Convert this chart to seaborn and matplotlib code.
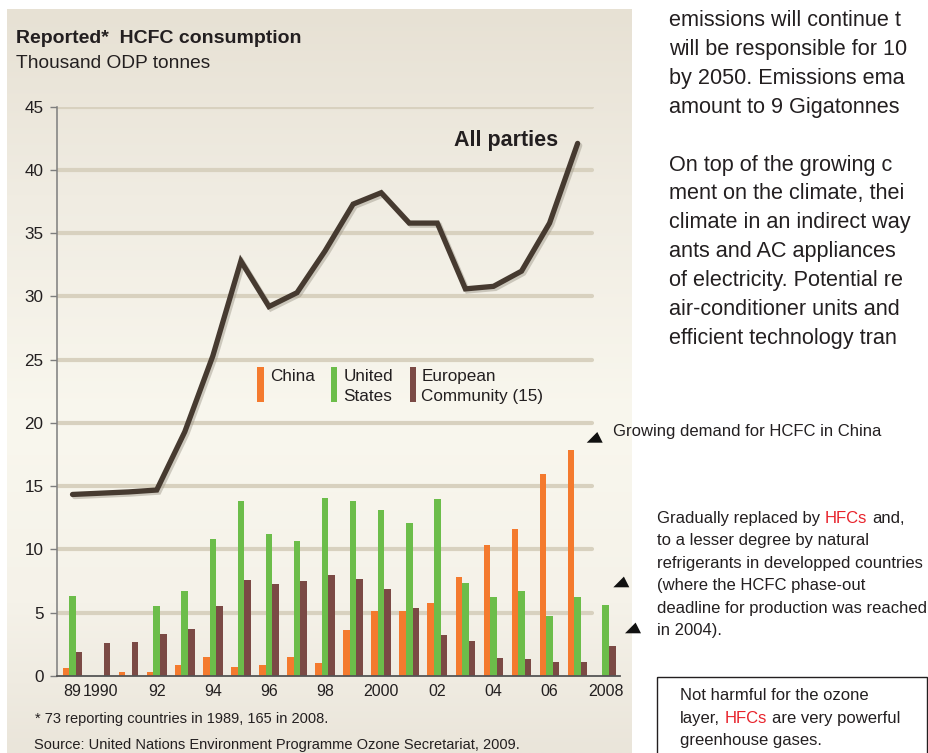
import numpy as np
import pandas as pd
import matplotlib
matplotlib.use("Agg")
import matplotlib.pyplot as plt
import seaborn as sns
from matplotlib import font_manager, patheffects
from matplotlib.patches import Polygon, Rectangle

# values, thousand ODP tonnes
years = list(range(1989, 2009))
china = [0.66, 0, 0.32, 0.32, 0.87, 1.5, 0.71, 0.87, 1.5, 1.03,
         3.6, 5.13, 5.13, 5.76, 7.8, 10.34, 11.6, 16.0, 17.84, 0]
usa = [6.3, 0, 0, 5.5, 6.7, 10.8, 13.8, 11.2, 10.7, 14.1,
       13.8, 13.1, 12.1, 13.97, 7.34, 6.24, 6.7, 4.74, 6.24, 5.6]
eu = [1.9, 2.6, 2.7, 3.3, 3.7, 5.5, 7.6, 7.3, 7.5, 8.0,
      7.66, 6.87, 5.37, 3.24, 2.76, 1.42, 1.34, 1.1, 1.1, 2.37]
line_years = list(range(1989, 2008))
all_parties = [14.35, 14.45, 14.55, 14.7, 19.3, 25.3, 32.8, 29.2, 30.3, 33.6,
               37.3, 38.2, 35.8, 35.8, 30.6, 30.8, 32.0, 35.8, 42.1]

regions = ["China", "United States", "European Community (15)"]
colors = ["#f47a2e", "#6cbd4a", "#7b4a45"]
tick_years = [1989, 1990, 1992, 1994, 1996, 1998, 2000, 2002, 2004, 2006, 2008]
tick_labels = ["89", "1990", "92", "94", "96", "98", "2000", "02", "04", "06", "2008"]

installed = {f.name for f in font_manager.fontManager.ttflist}
narrow = "Liberation Sans Narrow" if "Liberation Sans Narrow" in installed else "Liberation Sans"

sns.set_theme(style="white")
plt.rcParams["font.family"] = ["Liberation Sans", "DejaVu Sans"]
TXT = "#231f20"
RED = "#e8222b"

W, H = 929, 753
fig = plt.figure(figsize=(W / 100, H / 100), dpi=100)
fig.patch.set_facecolor("white")

# beige panel with soft vertical gradient
bg = fig.add_axes([7 / W, 0, (632 - 7) / W, (H - 9) / H], zorder=-1)
pos = [0, 0.25, 0.55, 0.8, 1]
cols = np.array([[231, 225, 212], [240, 236, 226], [249, 247, 238],
                 [245, 242, 233], [234, 229, 218]]) / 255
t = np.linspace(0, 1, 300)
grad = np.stack([np.interp(t, pos, cols[:, i]) for i in range(3)], axis=1)[:, None, :]
bg.imshow(grad, aspect="auto", extent=[0, 1, 0, 1])
bg.axis("off")

# main chart
x0, x1, y0, y1 = 57.5, 620, 676, 106.7
ax = fig.add_axes([x0 / W, (H - y0) / H, (x1 - x0) / W, (y0 - y1) / H])
ax.patch.set_alpha(0)

df = pd.DataFrame({"year": years * 3,
                   "region": np.repeat(regions, len(years)),
                   "value": china + usa + eu})
sns.barplot(data=df, x="year", y="value", hue="region", hue_order=regions,
            palette=colors, width=0.7, saturation=1, legend=False,
            linewidth=0, ax=ax, zorder=2)

shadow = [patheffects.SimpleLineShadow(offset=(1.5, -1.5), shadow_color="#9a9486", alpha=0.45),
          patheffects.Normal()]
sns.lineplot(x=np.array(line_years) - 1989, y=all_parties, color="#463a30",
             lw=3.8, ax=ax, zorder=4, path_effects=shadow, solid_joinstyle="miter")

ax.set_xlim(-0.535, 19.51)
ax.set_ylim(0, 45)
for v in range(5, 50, 5):
    ax.axhline(v, xmax=(592 - x0) / (x1 - x0), color="#d8d1bf", lw=3, zorder=1)

ax.set_yticks(range(0, 50, 5))
ax.tick_params(axis="y", left=True, length=5, width=1, color="#7d7d7d", pad=5,
               labelsize=12.3, labelcolor=TXT)
ax.set_xticks([y - 1989 for y in tick_years])
ax.set_xticklabels(tick_labels, fontfamily=narrow, fontsize=11.5, color=TXT)
ax.tick_params(axis="x", length=0, pad=6)
ax.set_xlabel("")
ax.set_ylabel("")
sns.despine(ax=ax)
ax.spines["left"].set_color("#7d7d7d")
ax.spines["left"].set_linewidth(1.1)
ax.spines["bottom"].set_color("#555555")
ax.spines["bottom"].set_linewidth(1.3)

# overlay in pixel coordinates for texts and decorations
ov = fig.add_axes([0, 0, 1, 1], zorder=5)
ov.set_xlim(0, W)
ov.set_ylim(H, 0)
ov.axis("off")

ov.text(16, 43, "Reported*  HCFC consumption", fontsize=14, fontweight="bold",
        color=TXT, va="baseline")
ov.text(16, 68, "Thousand ODP tonnes", fontsize=13.8, color=TXT, va="baseline")
ov.text(454, 146, "All parties", fontsize=15.5, fontweight="bold", color=TXT, va="baseline")

# legend
leg = [(257.5, 270, ["China"]), (331, 343.5, ["United", "States"]),
       (410, 421.5, ["European", "Community (15)"])]
for (rx, tx, lines), c in zip(leg, colors):
    ov.add_patch(Rectangle((rx, 367), 6.5, 35, color=c, lw=0))
    for i, s in enumerate(lines):
        ov.text(tx, 381 + 20 * i, s, fontsize=12.3, color=TXT, va="baseline")

ov.text(35, 723, "* 73 reporting countries in 1989, 165 in 2008.", fontsize=10.5,
        color=TXT, va="baseline")
ov.text(34, 749, "Source: United Nations Environment Programme Ozone Secretariat, 2009.",
        fontsize=10.5, color=TXT, va="baseline")

# annotations on the right
ov.text(613, 436, "Growing demand for HCFC in China", fontsize=12, color=TXT, va="baseline")
for px, py in [(586.7, 442.7), (613.3, 587.3), (625, 633.3)]:
    ov.add_patch(Polygon([(px, py), (px + 16, py), (px + 10.6, py - 10.7)],
                         closed=True, color="#111111", lw=0))


def rich_line(x, y, parts, size):
    prev = None
    for s, c in parts:
        if prev is None:
            prev = ov.text(x, y, s, fontsize=size, color=c, va="baseline")
        else:
            prev = ov.annotate(s, xy=(1, 0), xycoords=prev, xytext=(size * 0.278, 0),
                               textcoords="offset points", fontsize=size, color=c,
                               va="bottom", ha="left")


grad_lines = [
    [("Gradually replaced by", TXT), ("HFCs", RED), ("and,", TXT)],
    [("to a lesser degree by natural", TXT)],
    [("refrigerants in developped countries", TXT)],
    [("(where the HCFC phase-out", TXT)],
    [("deadline for production was reached", TXT)],
    [("in 2004).", TXT)],
]
for i, parts in enumerate(grad_lines):
    rich_line(657, 522.7 + 22.5 * i, parts, 12)

ov.add_patch(Rectangle((657.5, 677), 269.5, 90, fill=False, edgecolor=TXT, lw=1, clip_on=True))
box_lines = [
    [("Not harmful for the ozone", TXT)],
    [("layer,", TXT), ("HFCs", RED), ("are very powerful", TXT)],
    [("greenhouse gases.", TXT)],
]
for i, parts in enumerate(box_lines):
    rich_line(680, 700 + 22.7 * i, parts, 12)

# page body text beside the chart, as far as the page edge shows it
body = ["emissions will continue t", "will be responsible for 10",
        "by 2050. Emissions ema", "amount to 9 Gigatonnes",
        "", "On top of the growing c", "ment on the climate, thei",
        "climate in an indirect way", "ants and AC appliances",
        "of electricity. Potential re", "air-conditioner units and",
        "efficient technology tran"]
for i, s in enumerate(body):
    if s:
        ov.text(669, 26 + 28.9 * i, s, fontsize=15.6, color=TXT, va="baseline")

fig.savefig("out.png", dpi=100)
